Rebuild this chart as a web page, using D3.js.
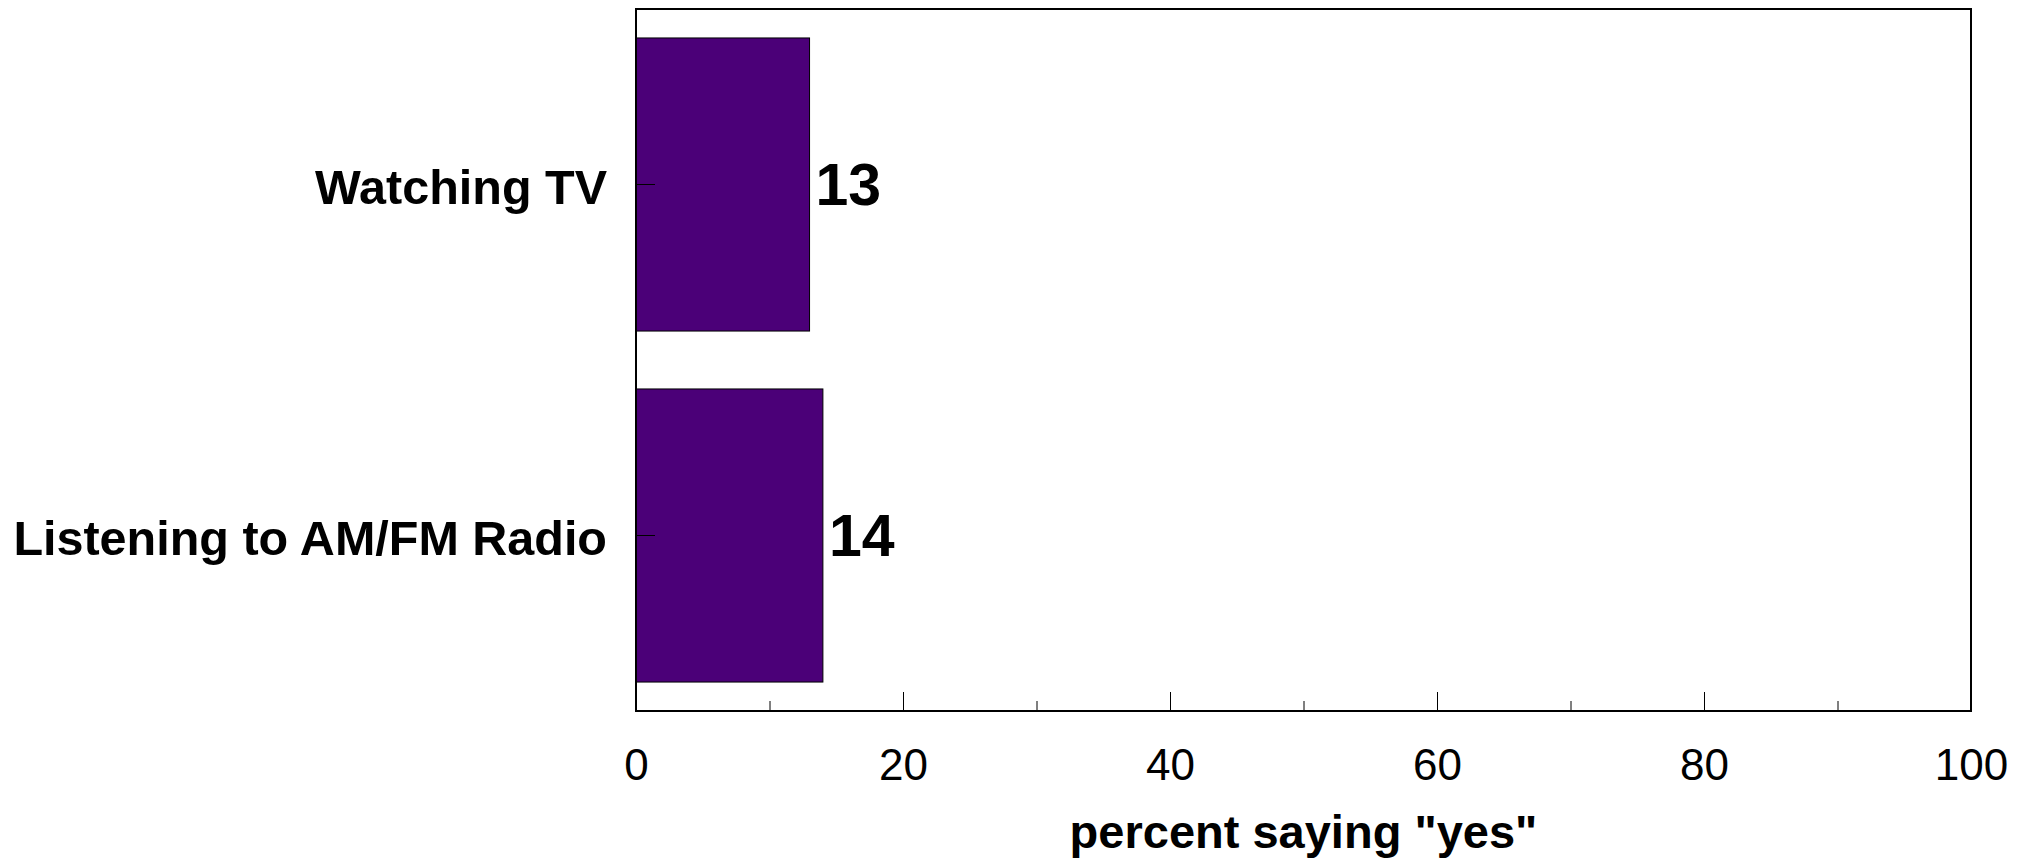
<!DOCTYPE html>
<html>
<head>
<meta charset="utf-8">
<script src="https://cdn.jsdelivr.net/npm/d3@7"></script>
<style>
  html, body { margin: 0; padding: 0; background: #fff; }
  svg { display: block; font-family: "Liberation Sans", Arial, sans-serif; }
</style>
</head>
<body>
<script>
const categories = ["Watching TV", "Listening to AM/FM Radio"];
const values = [13, 14];
const majorTicks = [0, 20, 40, 60, 80, 100];
const minorTicks = [10, 30, 50, 70, 90];
const xTitle = 'percent saying "yes"';

const W = 2021, H = 858;
const margin = { left: 636, right: 50, top: 9, bottom: 147 };
const iw = W - margin.left - margin.right;
const ih = H - margin.top - margin.bottom;

const svg = d3.select("body").append("svg").attr("width", W).attr("height", H);
const g = svg.append("g").attr("transform", `translate(${margin.left},${margin.top})`);

const x = d3.scaleLinear().domain([0, 100]).range([0, iw]);
const y = d3.scaleBand().domain(categories).range([0, ih]).paddingInner(0.165).paddingOuter(0.0825);

// bars
g.selectAll("rect.bar").data(categories).join("rect")
  .attr("class", "bar")
  .attr("x", x(0))
  .attr("y", d => y(d))
  .attr("width", (d, i) => x(values[i]) - x(0))
  .attr("height", y.bandwidth())
  .attr("fill", "#4b0078")
  .attr("stroke", "#000")
  .attr("stroke-width", 1);

// value labels
g.selectAll("text.val").data(categories).join("text")
  .attr("class", "val")
  .attr("x", (d, i) => x(values[i]) + 6)
  .attr("y", d => y(d) + y.bandwidth() / 2)
  .attr("dy", 20)
  .attr("font-size", 59)
  .attr("font-weight", "bold")
  .attr("fill", "#000")
  .text((d, i) => values[i]);

// x axis major
const xAxis = g.append("g").attr("transform", `translate(0,${ih})`)
  .call(d3.axisBottom(x).tickValues(majorTicks).tickSizeInner(-19).tickSizeOuter(0).tickFormat(d3.format("d")));
xAxis.select(".domain").remove();
xAxis.selectAll(".tick line").attr("stroke", "#000").attr("stroke-width", 1);
xAxis.selectAll(".tick text")
  .attr("y", 69).attr("dy", 0)
  .attr("font-size", 44).attr("fill", "#000")
  .attr("font-family", "'Liberation Sans', Arial, sans-serif");

// x axis minor
const xMinor = g.append("g").attr("transform", `translate(0,${ih})`)
  .call(d3.axisBottom(x).tickValues(minorTicks).tickSizeInner(-10).tickSizeOuter(0).tickFormat(""));
xMinor.select(".domain").remove();
xMinor.selectAll(".tick line").attr("stroke", "#000").attr("stroke-width", 1);

// y axis
const yAxis = g.append("g")
  .call(d3.axisLeft(y).tickSizeInner(-19).tickSizeOuter(0).tickPadding(29));
yAxis.select(".domain").remove();
yAxis.selectAll(".tick line").attr("stroke", "#000").attr("stroke-width", 1);
yAxis.selectAll(".tick text")
  .attr("x", -29).attr("dy", 19)
  .attr("font-size", 48.5).attr("font-weight", "bold").attr("fill", "#000")
  .attr("font-family", "'Liberation Sans', Arial, sans-serif");

// frame
g.append("rect")
  .attr("x", 0).attr("y", 0).attr("width", iw).attr("height", ih)
  .attr("fill", "none").attr("stroke", "#000").attr("stroke-width", 2);

// x title
g.append("text")
  .attr("x", iw / 2)
  .attr("y", 848 - margin.top)
  .attr("text-anchor", "middle")
  .attr("font-size", 47)
  .attr("font-weight", "bold")
  .attr("fill", "#000")
  .text(xTitle);
</script>
</body>
</html>
